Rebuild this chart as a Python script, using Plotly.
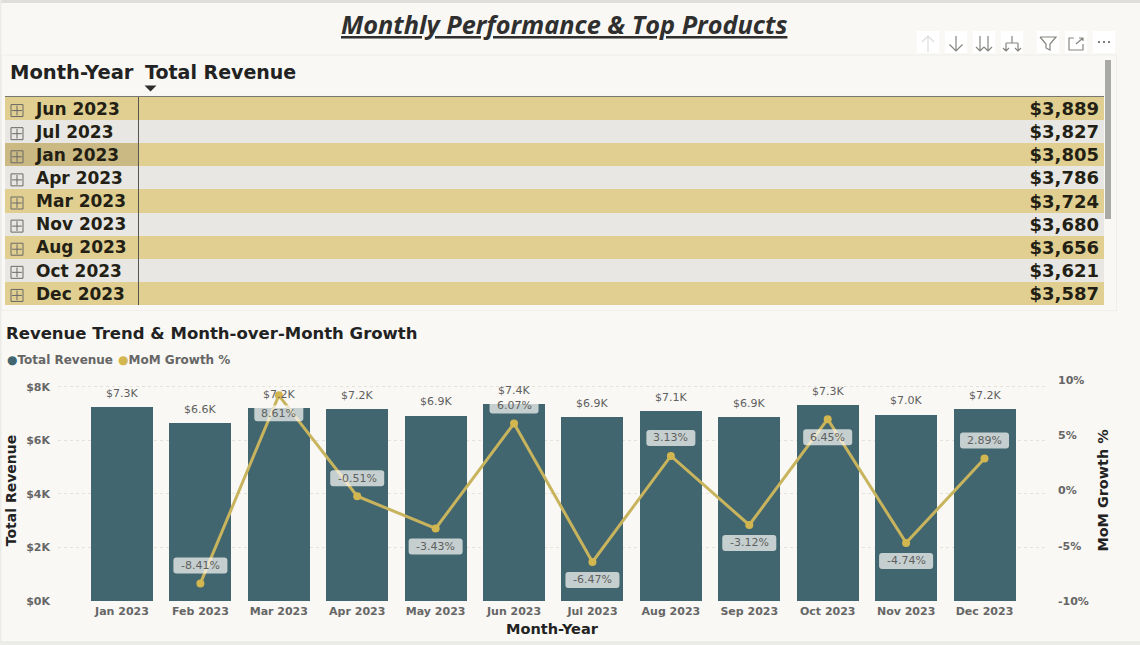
import plotly.graph_objects as go

W = 1140
H = 645

# trend chart data
months = ["Jan 2023", "Feb 2023", "Mar 2023", "Apr 2023", "May 2023", "Jun 2023",
          "Jul 2023", "Aug 2023", "Sep 2023", "Oct 2023", "Nov 2023", "Dec 2023"]
revenue = [7250, 6640, 7212, 7175, 6929, 7350, 6874, 7089, 6868, 7311, 6964, 7165]
revenue_labels = ["$7.3K", "$6.6K", "$7.2K", "$7.2K", "$6.9K", "$7.4K",
                  "$6.9K", "$7.1K", "$6.9K", "$7.3K", "$7.0K", "$7.2K"]
mom_months = months[1:]
mom_growth = [-8.41, 8.61, -0.51, -3.43, 6.07, -6.47, 3.13, -3.12, 6.45, -4.74, 2.89]
mom_side = ["above", "below", "above", "below", "above", "below",
            "above", "below", "below", "below", "above"]

# table data
table_months = ["Jun 2023", "Jul 2023", "Jan 2023", "Apr 2023", "Mar 2023",
                "Nov 2023", "Aug 2023", "Oct 2023", "Dec 2023"]
table_revenue = ["$3,889", "$3,827", "$3,805", "$3,786", "$3,724",
                 "$3,680", "$3,656", "$3,621", "$3,587"]

BG = "#f9f8f4"
GOLD = "#e1cf91"
GREY = "#e8e7e3"
TEAL = "#41666f"
LINE = "#c9b45e"
DOT = "#d2b64f"
FONT = "DejaVu Sans"


# pixel helpers, the page is laid out in screen pixels
def fx(x):
    return x / W


def fy(y):
    return 1 - y / H


def path(*lines):
    out = []
    for pts in lines:
        out.append("M" + " L".join(f"{fx(x):.5f},{fy(y):.5f}" for x, y in pts))
    return " ".join(out)


def rect(x0, y0, x1, y1, fill, line=None, layer="below"):
    return dict(type="rect", xref="paper", yref="paper", x0=fx(x0), x1=fx(x1), y0=fy(y0), y1=fy(y1),
                fillcolor=fill, line=dict(color=line or fill, width=1 if line else 0), layer=layer)


def stroke(color, *lines, width=1.2):
    return dict(type="path", xref="paper", yref="paper", path=path(*lines),
                line=dict(color=color, width=width), layer="above")


def text(x, y, s, size, color="#222222", anchor="left", family=FONT):
    return dict(xref="paper", yref="paper", x=fx(x), y=fy(y), text=s, showarrow=False,
                xanchor=anchor, yanchor="middle", font=dict(family=family, size=size, color=color))


fig = go.Figure()

# table rows drawn as stacked bars on a hidden axis measured in pixels
row_colors = [GOLD if i % 2 == 0 else GREY for i in range(len(table_months))]
first_col_colors = list(row_colors)
first_col_colors[table_months.index("Jan 2023")] = "#cbb983"
fig.add_trace(go.Bar(y=table_months, x=[133] * len(table_months), orientation="h", width=1,
                     marker=dict(color=first_col_colors, line=dict(width=0)),
                     xaxis="x2", yaxis="y3", hoverinfo="skip", showlegend=False))
fig.add_trace(go.Bar(y=table_months, x=[966] * len(table_months), orientation="h", width=1,
                     marker=dict(color=row_colors, line=dict(width=0)),
                     xaxis="x2", yaxis="y3", hoverinfo="skip", showlegend=False))
# icons and row text sit on a second axis, nudged down a little from the bands
fig.add_trace(go.Scatter(y=table_months, x=[12] * len(table_months), mode="markers",
                         marker=dict(symbol="square-open", size=12, color="#6a6a66", line=dict(width=1, color="#6a6a66")),
                         xaxis="x2", yaxis="y4", hoverinfo="skip", showlegend=False))
fig.add_trace(go.Scatter(y=table_months, x=[12] * len(table_months), mode="markers",
                         marker=dict(symbol="cross-thin-open", size=7, color="#6a6a66", line=dict(width=1, color="#6a6a66")),
                         xaxis="x2", yaxis="y4", hoverinfo="skip", showlegend=False))
fig.add_trace(go.Scatter(y=table_months, x=[31] * len(table_months), mode="text", text=table_months,
                         textposition="middle right",
                         textfont=dict(family=FONT, size=17, color="#231f14", weight="bold"),
                         xaxis="x2", yaxis="y4", hoverinfo="skip", showlegend=False))
fig.add_trace(go.Scatter(y=table_months, x=[1094] * len(table_months), mode="text", text=table_revenue,
                         textposition="middle left",
                         textfont=dict(family=FONT, size=18, color="#231f14", weight="bold"),
                         xaxis="x2", yaxis="y4", hoverinfo="skip", showlegend=False))

# trend chart
fig.add_trace(go.Bar(x=months, y=revenue, name="Total Revenue", width=0.79,
                     marker=dict(color=TEAL, line=dict(width=0))))
fig.add_trace(go.Scatter(x=mom_months, y=mom_growth, name="MoM Growth %", yaxis="y2", mode="lines+markers",
                         line=dict(color=LINE, width=3), marker=dict(color=DOT, size=8), cliponaxis=False))

shapes = [
    rect(0, 0, W, H, BG),
    rect(0, 0, W, 3, "#dededb"),
    rect(0, 641, W, H, "#ebebe8"),
    rect(0, 0, 1.5, H, "#ebebe8"),
    rect(1.5, 55, 1116.5, 310.5, BG, line="#efeeea"),
    # table rules and scrollbar
    stroke("#777770", [(5, 96.5), (1104, 96.5)], width=1),
    stroke("#55554f", [(138.5, 97), (138.5, 305)], width=1),
    dict(type="path", xref="paper", yref="paper", layer="above", fillcolor="#2c2c2c", line=dict(width=0),
         path=path([(144.5, 85.5), (156.5, 85.5), (150.5, 91.5)]) + " Z"),
    rect(1105, 60, 1111, 219, "#a9a9a6", layer="above"),
]

# visual header icons
icon_y = 42
for cx in [928, 956, 984, 1012, 1048, 1076, 1104]:
    shapes.append(rect(cx - 11, icon_y - 11, cx + 11, icon_y + 11, "#ffffff"))
icon = "#85857f"
shapes += [
    stroke("#dcdcd9", [(928, 52), (928, 36)], [(922, 42), (928, 36), (934, 42)]),
    stroke(icon, [(956, 36), (956, 51)], [(949.5, 44.5), (956, 51), (962.5, 44.5)]),
    stroke(icon, [(980, 36), (980, 51)], [(976, 47), (980, 51), (984, 47)],
           [(988, 36), (988, 51)], [(984, 47), (988, 51), (992, 47)]),
    stroke(icon, [(1012, 36), (1012, 43)], [(1006, 43), (1018, 43)], [(1006, 43), (1006, 51)],
           [(1018, 43), (1018, 51)], [(1003, 48), (1006, 51), (1009, 48)], [(1015, 48), (1018, 51), (1021, 48)]),
    stroke(icon, [(1040, 37), (1056, 37), (1050, 44), (1050, 50), (1046, 48), (1046, 44), (1040, 37)]),
    stroke(icon, [(1074, 38), (1069, 38), (1069, 50), (1083, 50), (1083, 44)], [(1076, 44), (1083, 38)],
           [(1079, 38), (1083, 38), (1083, 41)]),
    stroke("#55554f", [(1098, 42), (1100, 42)], [(1103, 42), (1105, 42)], [(1108, 42), (1110, 42)], width=1.6),
]

# rounded label plates for the growth values, sized in pixels around each point
for month, value, side in zip(mom_months, mom_growth, mom_side):
    half = 27 if value < 0 else 24.5
    mid = -18 if side == "above" else 18
    # y pixels grow upward for pixel sized shapes
    top, bottom = -mid + 8, -mid - 8
    r = 3
    rounded = (f"M{-half + r},{bottom} L{half - r},{bottom} Q{half},{bottom} {half},{bottom + r} "
               f"L{half},{top - r} Q{half},{top} {half - r},{top} L{-half + r},{top} "
               f"Q{-half},{top} {-half},{top - r} L{-half},{bottom + r} Q{-half},{bottom} {-half + r},{bottom} Z")
    shapes.append(dict(type="path", xref="x", yref="y2", xsizemode="pixel", ysizemode="pixel",
                       xanchor=month, yanchor=value, path=rounded, layer="above",
                       fillcolor="rgba(249,248,244,0.72)", line=dict(width=0)))

annotations = [
    dict(xref="paper", yref="paper", x=fx(564), y=fy(23.5), showarrow=False, xanchor="center", yanchor="middle",
         text="<b><i><u>Monthly Performance &amp; Top Products</u></i></b>",
         font=dict(family="Open Sans", size=25.3, color="#2f2f2f")),
    text(8, 72, "<b>Month-Year</b>", 19.5),
    text(143, 72, "<b>Total Revenue</b>", 19),
    text(4, 333, "<b>Revenue Trend &amp; Month-over-Month Growth</b>", 16.5),
    text(5, 360, f"<span style='color:{TEAL}'>●</span><b>Total Revenue</b>", 12, color="#666666"),
    text(116, 360, f"<span style='color:{DOT}'>●</span><b>MoM Growth %</b>", 12, color="#666666"),
]
for month, value, label in zip(months, revenue, revenue_labels):
    annotations.append(dict(xref="x", yref="y", x=month, y=value, showarrow=False, yshift=14, text=label,
                            font=dict(family=FONT, size=11, color="#5f5f5f")))
for month, value, side in zip(mom_months, mom_growth, mom_side):
    annotations.append(dict(xref="x", yref="y2", x=month, y=value, showarrow=False,
                            yshift=18 if side == "above" else -18, text=f"{value:.2f}%",
                            font=dict(family=FONT, size=11, color="#5f5f5f")))

tick_font = dict(family=FONT, size=11, color="#666666", weight="bold")
title_font = dict(family=FONT, size=14, color="#222222", weight="bold")

fig.update_layout(
    width=W,
    height=H,
    margin=dict(l=0, r=0, t=0, b=0, autoexpand=False),
    paper_bgcolor=BG,
    plot_bgcolor="rgba(0,0,0,0)",
    barmode="stack",
    showlegend=False,
    shapes=shapes,
    annotations=annotations,
    font=dict(family=FONT),
    xaxis=dict(domain=[fx(58), fx(1046)], range=[-0.816, 11.784], type="category", categoryarray=months,
               categoryorder="array", showgrid=False, zeroline=False, showline=False, ticks="", automargin=False,
               tickfont=tick_font, ticklabelstandoff=2,
               title=dict(text="Month-Year", font=dict(family=FONT, size=14.5, color="#222222", weight="bold"), standoff=6)),
    yaxis=dict(domain=[fy(601), fy(380)], range=[0, 8260], tickvals=[0, 2000, 4000, 6000, 8000],
               ticktext=["$0K", "$2K", "$4K", "$6K", "$8K"], showgrid=True, gridcolor="#e3e2db", griddash="dot",
               gridwidth=1, zeroline=False, showline=False, tickfont=tick_font, ticks="", ticklabelstandoff=7,
               automargin=False, title=dict(text="Total Revenue", font=title_font, standoff=6)),
    yaxis2=dict(overlaying="y", side="right", anchor="x", range=[-10, 10], tickvals=[-10, -5, 0, 5, 10],
                ticktext=["-10%", "-5%", "0%", "5%", "10%"], showgrid=False, zeroline=False, showline=False,
                tickfont=tick_font, ticks="", ticklabelstandoff=11, automargin=False,
                title=dict(text="MoM Growth %", font=dict(family=FONT, size=14.4, color="#222222", weight="bold"), standoff=10)),
    xaxis2=dict(domain=[fx(5), fx(1104)], range=[0, 1099], visible=False, anchor="y3", automargin=False),
    yaxis3=dict(domain=[fy(305), fy(97)], type="category", categoryorder="array", categoryarray=table_months,
                range=[8.5, -0.5], visible=False, anchor="x2", automargin=False),
    yaxis4=dict(domain=[fy(307), fy(99)], type="category", categoryorder="array", categoryarray=table_months,
                range=[8.5, -0.5], visible=False, anchor="x2", automargin=False),
)

fig.write_html("out.html", config={"displayModeBar": False},
               post_script="document.body.style.margin='0';")
